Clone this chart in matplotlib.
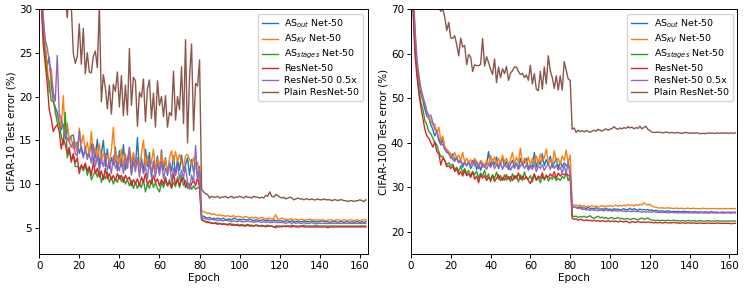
import numpy as np
import matplotlib
matplotlib.use("Agg")
import matplotlib.pyplot as plt

epochs = list(range(164))

labels = [r"AS$_{out}$ Net-50", r"AS$_{KV}$ Net-50", r"AS$_{stages}$ Net-50",
          "ResNet-50", "ResNet-50 0.5x", "Plain ResNet-50"]

# ---------------- CIFAR-10 ----------------
c10_as_out = [40, 32, 27.5, 25.5, 23.5, 24.5, 21.5, 19.5, 18.8, 18.2,
    17.0, 16.2, 16.8, 15.2, 16.5, 15.0, 15.5, 15.6, 14.2, 14.8,
    13.5, 14.3, 13.2, 13.8, 13.3, 13.5, 14.6, 12.6, 13.1, 15.1,
    12.2, 13.5, 15.0, 12.0, 14.0, 11.8, 13.0, 12.2, 14.2, 11.5,
    13.8, 12.0, 14.5, 11.6, 12.8, 13.9, 11.2, 13.5, 12.0, 15.3,
    11.5, 13.0, 11.3, 14.0, 12.0, 13.6, 10.8, 12.6, 11.6, 13.2,
    11.3, 13.9, 11.6, 13.0, 11.0, 12.5, 11.5, 13.2, 11.0, 12.8,
    11.6, 13.3, 11.5, 12.2, 13.0, 11.0, 12.8, 11.4, 12.4, 10.8,
    12.0, 6.4, 6.3, 6.2, 6.1, 6.2, 6.0, 6.1, 6.0, 6.1,
    6.0, 6.0, 6.1, 5.9, 6.0, 6.0, 5.9, 6.1, 6.0, 5.9,
    6.0, 5.9, 6.0, 5.9, 5.9, 6.0, 5.9, 5.8, 5.9, 5.9,
    5.8, 5.9, 5.9, 5.8, 5.9, 5.8, 5.8, 5.9, 5.8, 5.8,
    5.8, 5.8, 5.7, 5.8, 5.8, 5.7, 5.8, 5.7, 5.7, 5.8,
    5.7, 5.7, 5.8, 5.7, 5.7, 5.7, 5.8, 5.7, 5.7, 5.7,
    5.7, 5.8, 5.7, 5.7, 5.7, 5.6, 5.7, 5.7, 5.7, 5.6,
    5.7, 5.7, 5.6, 5.7, 5.7, 5.6, 5.7, 5.6, 5.7, 5.7,
    5.6, 5.7, 5.6, 5.7]

c10_as_kv = [42, 34, 29, 26, 23.5, 20.5, 23.2, 20.5, 18.0, 17.5,
    17.8, 16.5, 20.1, 15.5, 17.0, 14.8, 15.3, 14.0, 14.8, 13.5,
    16.4, 14.6, 15.6, 13.8, 14.8, 13.2, 16.0, 13.5, 14.2, 12.8,
    14.6, 12.6, 13.5, 12.8, 13.3, 12.5, 13.8, 16.5, 12.5, 13.2,
    12.3, 14.0, 12.0, 13.5, 11.8, 14.2, 12.5, 13.6, 11.9, 12.8,
    11.5, 13.5, 15.0, 12.0, 13.2, 11.8, 12.5, 14.0, 11.5, 12.8,
    12.0, 13.5, 12.2, 12.8, 11.3, 13.0, 13.8, 12.5, 13.7, 12.6,
    13.4, 12.5, 12.0, 13.2, 13.4, 12.8, 12.2, 13.0, 11.8, 12.5,
    11.2, 7.0, 6.8, 6.8, 6.6, 6.7, 6.5, 6.6, 6.5, 6.4,
    6.5, 6.4, 6.4, 6.3, 6.4, 6.3, 6.3, 6.4, 6.2, 6.3,
    6.3, 6.2, 6.2, 6.3, 6.2, 6.1, 6.2, 6.1, 6.2, 6.1,
    6.1, 6.2, 6.1, 6.0, 6.1, 6.1, 6.0, 6.1, 6.5, 6.0,
    6.0, 6.1, 6.0, 6.0, 5.9, 6.0, 6.0, 5.9, 6.0, 5.9,
    5.9, 6.0, 5.9, 5.9, 5.9, 6.0, 5.9, 5.9, 5.9, 5.9,
    5.9, 5.9, 5.9, 5.8, 5.9, 5.9, 5.9, 5.8, 5.9, 5.9,
    5.9, 5.8, 5.9, 5.9, 5.8, 5.9, 5.9, 5.8, 5.9, 5.9,
    5.8, 5.9, 5.9, 5.9]

c10_as_stages = [40, 32, 27, 24.5, 22.5, 21.5, 19.5, 19.5, 18.5, 17.0,
    16.8, 15.5, 14.5, 18.2, 13.0, 13.8, 12.8, 13.2, 12.0, 12.0,
    11.8, 12.0, 11.5, 12.2, 11.0, 11.8, 10.5, 11.0, 11.5, 10.8,
    11.6, 10.2, 11.0, 10.6, 11.4, 10.2, 10.8, 10.0, 10.6, 10.2,
    11.0, 10.3, 10.8, 10.0, 10.5, 9.8, 10.4, 9.5, 10.2, 9.5,
    10.0, 9.6, 10.5, 9.1, 10.0, 9.5, 10.6, 9.6, 10.2, 9.5,
    9.1, 10.2, 9.6, 10.4, 9.8, 10.5, 9.5, 10.2, 9.7, 10.8,
    9.6, 11.0, 9.8, 10.4, 9.5, 10.0, 9.4, 9.8, 9.4, 9.6,
    9.5, 5.9, 5.8, 5.7, 5.7, 5.6, 5.6, 5.5, 5.6, 5.5,
    5.5, 5.4, 5.5, 5.4, 5.4, 5.5, 5.4, 5.4, 5.3, 5.4,
    5.3, 5.4, 5.3, 5.3, 5.4, 5.3, 5.3, 5.2, 5.3, 5.3,
    5.2, 5.3, 5.2, 5.2, 5.3, 5.2, 5.2, 5.1, 5.0, 5.1,
    5.1, 5.2, 5.2, 5.2, 5.2, 5.2, 5.3, 5.2, 5.2, 5.2,
    5.2, 5.2, 5.3, 5.2, 5.2, 5.2, 5.2, 5.2, 5.3, 5.2,
    5.2, 5.2, 5.2, 5.2, 5.2, 5.2, 5.2, 5.2, 5.2, 5.2,
    5.2, 5.2, 5.2, 5.2, 5.2, 5.2, 5.2, 5.2, 5.2, 5.2,
    5.2, 5.2, 5.2, 5.2]

c10_resnet = [38, 31, 26, 23.8, 21.5, 18.5, 17.5, 16.0, 16.5, 16.8,
    16.0, 14.0, 15.2, 14.5, 13.5, 14.2, 12.5, 13.5, 12.4, 13.0,
    11.2, 12.2, 11.8, 12.4, 11.5, 12.0, 11.0, 12.5, 11.2, 11.8,
    10.8, 11.5, 10.5, 11.8, 10.6, 11.2, 10.5, 11.0, 10.4, 11.2,
    10.6, 11.0, 10.2, 11.0, 10.5, 10.8, 9.8, 10.5, 10.0, 10.6,
    9.8, 10.8, 10.2, 11.2, 9.9, 10.4, 10.0, 11.0, 10.2, 10.6,
    9.8, 10.5, 10.0, 10.8, 9.8, 10.2, 9.6, 11.2, 10.0, 10.5,
    9.8, 10.4, 10.8, 9.6, 10.2, 9.5, 10.0, 10.5, 9.8, 10.8,
    9.6, 6.0, 5.8, 5.7, 5.6, 5.6, 5.5, 5.5, 5.5, 5.4,
    5.5, 5.4, 5.4, 5.4, 5.3, 5.4, 5.3, 5.3, 5.3, 5.3,
    5.2, 5.3, 5.2, 5.2, 5.3, 5.2, 5.2, 5.2, 5.3, 5.2,
    5.2, 5.2, 5.2, 5.1, 5.2, 5.2, 5.2, 5.1, 5.2, 5.2,
    5.2, 5.1, 5.2, 5.1, 5.2, 5.1, 5.1, 5.2, 5.1, 5.1,
    5.1, 5.2, 5.1, 5.1, 5.1, 5.1, 5.1, 5.1, 5.1, 5.1,
    5.1, 5.1, 5.1, 5.1, 5.0, 5.1, 5.1, 5.1, 5.1, 5.1,
    5.1, 5.1, 5.1, 5.1, 5.1, 5.1, 5.1, 5.1, 5.1, 5.1,
    5.1, 5.1, 5.1, 5.1]

c10_resnet_half = [42, 34, 29, 26.5, 25.6, 24.0, 22.0, 20.5, 19.5, 24.7,
    18.0, 17.5, 16.5, 15.8, 15.2, 14.8, 14.2, 14.8, 13.5, 13.2,
    16.1, 13.8, 13.0, 14.2, 12.8, 13.5, 12.4, 14.5, 12.0, 13.2,
    11.5, 12.8, 12.0, 13.5, 11.6, 12.5, 11.2, 13.2, 11.8, 12.4,
    11.5, 12.8, 11.2, 13.0, 11.8, 14.2, 11.0, 12.6, 11.4, 13.0,
    10.8, 12.5, 11.2, 12.0, 10.6, 12.8, 11.3, 12.2, 10.8, 12.4,
    11.0, 12.6, 10.6, 11.8, 11.2, 12.4, 10.4, 11.8, 11.0, 12.2,
    10.5, 11.6, 10.8, 12.0, 10.2, 9.4, 11.0, 10.2, 14.4, 10.5,
    11.5, 6.2, 6.1, 6.0, 6.0, 5.9, 6.0, 5.9, 5.9, 5.8,
    5.9, 5.8, 5.8, 5.9, 5.8, 5.8, 5.7, 5.8, 5.7, 5.7,
    5.8, 5.7, 5.7, 5.7, 5.8, 5.7, 5.7, 5.6, 5.7, 5.7,
    5.7, 5.6, 5.7, 5.6, 5.7, 5.6, 5.6, 5.7, 5.6, 5.6,
    5.6, 5.6, 5.6, 5.5, 5.6, 5.6, 5.5, 5.6, 5.5, 5.6,
    5.5, 5.5, 5.6, 5.5, 5.5, 5.5, 5.6, 5.5, 5.5, 5.5,
    5.5, 5.5, 5.5, 5.5, 5.5, 5.5, 5.5, 5.5, 5.5, 5.5,
    5.5, 5.5, 5.5, 5.5, 5.5, 5.5, 5.5, 5.5, 5.5, 5.5,
    5.5, 5.5, 5.5, 5.5]

c10_plain = [60, 52, 46, 42, 40, 38, 37, 36, 35, 34,
    33, 33.5, 32, 31.5, 29.0, 33, 30.5, 25.0, 23.8, 24.6,
    28.3, 23.7, 27.8, 22.6, 25.0, 22.8, 22.7, 24.6, 25.2, 23.3,
    30.5, 19.4, 22.5, 21.0, 18.6, 21.3, 18.0, 21.4, 20.6, 22.8,
    18.8, 22.4, 17.8, 21.3, 17.9, 25.5, 19.0, 22.2, 21.8, 16.6,
    20.5, 19.9, 22.0, 17.1, 20.9, 21.9, 17.5, 20.4, 16.5, 21.8,
    19.0, 20.0, 17.7, 20.1, 16.5, 18.2, 17.8, 22.9, 17.3, 20.0,
    18.5, 23.4, 16.9, 26.5, 14.7, 22.3, 26.0, 16.1, 21.5, 21.2,
    24.2, 9.4, 9.1, 8.9, 8.8, 8.4, 8.6, 8.5, 8.5, 8.6,
    8.4, 8.5, 8.5, 8.6, 8.4, 8.5, 8.6, 8.4, 8.5, 8.5,
    8.6, 8.5, 8.4, 8.6, 8.5, 8.5, 8.4, 8.6, 8.5, 8.5,
    8.4, 8.5, 8.4, 8.7, 8.6, 9.1, 8.6, 8.5, 8.8, 8.7,
    8.5, 8.4, 8.5, 8.3, 8.4, 8.5, 8.4, 8.2, 8.3, 8.4,
    8.3, 8.3, 8.2, 8.3, 8.3, 8.2, 8.3, 8.2, 8.2, 8.3,
    8.2, 8.2, 8.3, 8.2, 8.2, 8.2, 8.1, 8.2, 8.2, 8.1,
    8.2, 8.2, 8.1, 8.1, 8.0, 8.1, 8.1, 8.0, 8.1, 8.1,
    8.2, 8.1, 8.0, 8.2]

# ---------------- CIFAR-100 ----------------
c100_as_out = [90, 75, 64, 57, 54, 51, 49.5, 47.5, 46.0, 45.5,
    44.0, 43.0, 41.5, 42.5, 40.5, 39.5, 40.8, 38.5, 38.0, 37.8,
    36.5, 37.5, 36.0, 36.8, 35.5, 36.2, 34.5, 35.6, 34.8, 35.8,
    34.2, 35.0, 36.2, 34.0, 35.2, 33.8, 35.5, 34.5, 35.2, 38.0,
    34.5, 36.2, 35.0, 36.8, 34.2, 35.5, 36.5, 34.8, 35.8, 34.0,
    35.2, 36.0, 34.5, 35.5, 34.0, 36.5, 34.8, 35.6, 36.5, 34.2,
    35.0, 34.5, 37.8, 34.5, 36.0, 35.0, 37.5, 34.8, 36.2, 35.0,
    37.0, 34.5, 35.5, 36.5, 34.2, 35.8, 34.5, 35.5, 34.8, 35.2,
    33.5, 25.8, 25.6, 25.5, 25.4, 25.6, 25.3, 25.4, 25.2, 25.5,
    25.2, 25.3, 25.1, 25.4, 25.2, 25.0, 25.2, 25.0, 25.3, 25.0,
    25.1, 24.9, 25.2, 25.0, 25.1, 24.9, 25.0, 25.2, 24.9, 25.0,
    25.3, 24.9, 25.2, 25.0, 24.8, 25.1, 24.9, 25.0, 24.9, 25.0,
    24.8, 24.9, 24.7, 24.8, 24.7, 24.6, 24.7, 24.6, 24.6, 24.7,
    24.6, 24.5, 24.6, 24.5, 24.6, 24.5, 24.5, 24.6, 24.5, 24.5,
    24.5, 24.4, 24.5, 24.5, 24.4, 24.5, 24.4, 24.4, 24.5, 24.4,
    24.4, 24.5, 24.4, 24.4, 24.4, 24.3, 24.4, 24.4, 24.3, 24.4,
    24.4, 24.3, 24.4, 24.4]

c100_as_kv = [90, 76, 65, 58, 55, 52, 50, 49.0, 47.0, 46.0,
    45.0, 44.0, 44.2, 42.0, 43.5, 40.5, 41.5, 39.0, 38.5, 38.0,
    37.5, 36.5, 37.8, 36.5, 37.2, 36.0, 37.8, 35.6, 36.5, 35.5,
    36.2, 35.0, 36.5, 35.8, 34.8, 36.0, 35.5, 34.8, 36.0, 35.0,
    37.2, 35.5, 36.8, 35.2, 36.5, 35.0, 37.2, 35.6, 36.5, 35.0,
    36.2, 37.8, 35.2, 36.8, 35.5, 38.8, 35.0, 36.5, 35.2, 36.8,
    35.0, 36.5, 35.5, 37.0, 35.2, 37.5, 35.8, 36.6, 38.6, 35.5,
    36.2, 35.0, 38.2, 35.8, 36.5, 35.2, 37.0, 36.0, 38.3, 35.5,
    37.2, 26.2, 26.0, 26.0, 25.8, 26.0, 25.7, 25.9, 25.6, 25.8,
    25.7, 25.9, 25.6, 25.8, 25.5, 25.7, 25.9, 25.6, 25.8, 25.7,
    25.9, 25.7, 25.8, 26.0, 25.7, 25.9, 25.8, 26.0, 25.8, 26.1,
    25.9, 26.0, 25.8, 26.1, 25.9, 26.2, 26.0, 26.5, 26.2, 26.0,
    26.2, 25.8, 25.6, 25.5, 25.4, 25.3, 25.4, 25.3, 25.3, 25.4,
    25.3, 25.3, 25.2, 25.3, 25.3, 25.2, 25.3, 25.2, 25.2, 25.3,
    25.2, 25.2, 25.3, 25.2, 25.2, 25.2, 25.2, 25.3, 25.2, 25.2,
    25.2, 25.2, 25.2, 25.2, 25.2, 25.2, 25.2, 25.2, 25.2, 25.2,
    25.2, 25.2, 25.2, 25.2]

c100_as_stages = [88, 72, 62, 56, 52, 49.0, 47.5, 45.0, 44.0, 42.5,
    42.0, 41.0, 40.0, 39.5, 38.0, 36.8, 37.0, 36.0, 35.0, 35.5,
    34.8, 35.2, 34.0, 34.5, 33.5, 34.8, 33.2, 34.2, 33.0, 33.8,
    32.5, 33.5, 32.8, 33.6, 32.0, 33.2, 32.5, 33.8, 32.0, 33.0,
    31.2, 32.8, 32.0, 33.4, 31.8, 32.6, 31.5, 32.8, 31.6, 32.4,
    31.3, 33.0, 31.8, 32.6, 31.2, 32.8, 31.5, 33.4, 32.0, 31.8,
    32.6, 31.2, 32.8, 31.5, 32.2, 31.0, 32.5, 31.6, 32.8, 31.4,
    32.2, 31.8, 32.5, 31.5, 32.0, 31.5, 32.4, 32.0, 33.2, 31.5,
    32.5, 23.6, 23.4, 23.5, 23.2, 23.4, 23.3, 23.5, 23.2, 23.4,
    23.6, 23.2, 23.0, 23.3, 23.5, 23.1, 23.3, 23.0, 23.2, 22.9,
    23.1, 23.2, 22.9, 23.0, 23.2, 22.9, 23.0, 22.8, 22.9, 23.0,
    22.7, 22.9, 23.0, 22.8, 22.7, 22.9, 23.1, 22.8, 22.9, 23.1,
    22.8, 22.6, 22.6, 22.5, 22.6, 22.5, 22.6, 22.5, 22.5, 22.6,
    22.5, 22.5, 22.6, 22.5, 22.5, 22.4, 22.5, 22.5, 22.4, 22.5,
    22.5, 22.4, 22.5, 22.4, 22.4, 22.5, 22.4, 22.4, 22.4, 22.5,
    22.4, 22.4, 22.4, 22.4, 22.5, 22.4, 22.4, 22.4, 22.4, 22.4,
    22.4, 22.4, 22.4, 22.4]

c100_resnet = [86, 70, 60, 55, 51, 48.0, 45.5, 43.0, 41.5, 41.0,
    40.0, 39.0, 40.2, 38.0, 37.5, 35.0, 36.5, 36.0, 34.6, 34.8,
    34.2, 34.8, 33.5, 34.2, 32.8, 33.5, 32.5, 33.8, 32.6, 33.0,
    32.2, 33.5, 31.8, 32.5, 31.0, 32.8, 32.0, 32.6, 31.5, 32.2,
    31.8, 32.6, 31.3, 32.0, 32.8, 31.5, 32.2, 31.6, 32.8, 31.8,
    32.4, 31.5, 32.6, 32.0, 33.2, 31.8, 32.5, 31.8, 32.4, 31.5,
    30.8, 32.0, 33.0, 31.6, 32.5, 32.0, 33.2, 31.8, 32.6, 32.2,
    33.0, 32.4, 33.5, 32.0, 33.2, 32.5, 33.0, 32.8, 33.2, 32.6,
    32.5, 23.0, 22.8, 22.9, 22.6, 22.8, 22.7, 22.5, 22.7, 22.5,
    22.6, 22.4, 22.6, 22.4, 22.5, 22.3, 22.5, 22.4, 22.3, 22.5,
    22.3, 22.4, 22.3, 22.4, 22.2, 22.4, 22.3, 22.2, 22.4, 22.2,
    22.0, 22.3, 22.2, 22.1, 22.3, 22.2, 22.1, 22.2, 22.1, 22.2,
    22.1, 22.1, 22.0, 22.1, 22.0, 22.1, 22.0, 22.0, 22.1, 22.0,
    22.0, 22.0, 22.1, 22.0, 22.0, 21.9, 22.0, 22.0, 21.9, 22.0,
    22.0, 21.9, 22.0, 21.9, 21.9, 22.0, 21.9, 21.9, 21.9, 22.0,
    21.9, 21.9, 21.9, 21.9, 22.0, 21.9, 21.9, 21.9, 21.9, 21.9,
    21.9, 21.8, 21.9, 21.9]

c100_resnet_half = [92, 78, 66, 59, 55, 52, 50.5, 48.5, 47.0, 46.0,
    46.2, 44.5, 43.0, 42.5, 41.0, 40.0, 39.5, 38.5, 37.8, 37.5,
    36.8, 36.2, 35.8, 36.5, 35.5, 35.8, 35.2, 35.6, 34.8, 35.5,
    35.0, 36.0, 34.8, 35.5, 34.2, 35.8, 34.5, 35.0, 34.0, 35.2,
    34.5, 35.5, 34.2, 35.0, 34.6, 35.5, 34.0, 35.2, 34.5, 35.0,
    33.8, 34.8, 34.2, 35.4, 34.0, 34.8, 35.5, 34.2, 35.0, 33.8,
    34.6, 34.0, 35.2, 33.5, 34.8, 34.2, 35.0, 33.8, 34.6, 35.2,
    34.0, 35.5, 34.2, 35.0, 33.8, 34.5, 33.2, 34.8, 33.0, 35.8,
    32.5, 25.7, 25.5, 25.4, 25.2, 25.3, 25.0, 25.1, 24.9, 25.0,
    24.8, 25.0, 24.8, 24.9, 24.7, 24.9, 24.8, 24.7, 24.9, 24.7,
    24.8, 24.6, 24.8, 24.7, 24.6, 24.8, 24.6, 24.7, 24.5, 24.7,
    24.6, 24.5, 24.7, 24.5, 24.6, 24.5, 24.4, 24.5, 24.4, 24.5,
    24.4, 24.4, 24.5, 24.4, 24.3, 24.4, 24.3, 24.4, 24.3, 24.3,
    24.3, 24.4, 24.3, 24.3, 24.2, 24.3, 24.3, 24.2, 24.3, 24.3,
    24.2, 24.3, 24.2, 24.3, 24.2, 24.2, 24.3, 24.2, 24.2, 24.2,
    24.2, 24.3, 24.2, 24.2, 24.2, 24.3, 24.2, 24.2, 24.2, 24.3,
    24.2, 24.2, 24.3, 24.2]

c100_plain = [95, 88, 84, 80, 78, 76, 75, 74, 73, 72.5,
    72, 71.5, 71, 70.5, 70.2, 69.5, 70.0, 68.2, 65.2, 67.0,
    63.5, 63.4, 64.0, 62.0, 59.5, 63.5, 61.5, 61.8, 57.5, 59.8,
    59.2, 56.0, 57.5, 57.3, 57.3, 57.6, 63.4, 57.2, 59.3, 58.0,
    56.5, 55.3, 58.8, 53.5, 57.0, 54.6, 56.6, 55.5, 57.1, 54.0,
    55.6, 56.2, 57.0, 57.0, 56.0, 55.3, 55.6, 54.6, 55.2, 54.0,
    57.4, 53.2, 55.5, 52.0, 51.7, 56.0, 52.0, 57.0, 53.2, 59.5,
    56.2, 54.6, 52.2, 55.0, 51.8, 55.0, 51.8, 58.2, 56.2, 54.3,
    54.0, 43.0, 43.3, 42.3, 42.8, 42.5, 42.7, 42.4, 42.7, 42.6,
    42.3, 42.6, 42.8, 42.6, 43.0, 42.8, 42.6, 42.9, 43.1, 42.8,
    43.0, 43.2, 43.6, 43.2, 43.0, 43.3, 43.1, 43.4, 43.2, 43.6,
    43.3, 43.5, 43.1, 43.4, 43.2, 43.7, 43.1, 43.4, 43.7, 43.0,
    42.7, 42.4, 42.3, 42.3, 42.4, 42.3, 42.3, 42.2, 42.4, 42.3,
    42.2, 42.3, 42.2, 42.2, 42.3, 42.2, 42.1, 42.2, 42.3, 42.2,
    42.1, 42.2, 42.1, 42.2, 42.2, 42.0, 42.1, 42.1, 42.0, 42.2,
    42.1, 42.2, 42.1, 42.1, 42.2, 42.1, 42.2, 42.1, 42.2, 42.1,
    42.1, 42.2, 42.1, 42.2]

c10_series = [c10_as_out, c10_as_kv, c10_as_stages, c10_resnet, c10_resnet_half, c10_plain]
c100_series = [c100_as_out, c100_as_kv, c100_as_stages, c100_resnet, c100_resnet_half, c100_plain]
colors = ["#1f77b4", "#ff7f0e", "#2ca02c", "#d62728", "#9467bd", "#8c564b"]

plt.rcParams["font.family"] = "DejaVu Sans"
plt.rcParams["font.size"] = 7.5

fig = plt.figure(figsize=(7.54, 2.92), dpi=100)
ax1 = fig.add_axes([0.052, 0.130, 0.436, 0.839])
ax2 = fig.add_axes([0.545, 0.130, 0.433, 0.839])

for ax, series, ylab, ylim, yt in [
        (ax1, c10_series, "CIFAR-10 Test error (%)", (2, 30), [5, 10, 15, 20, 25, 30]),
        (ax2, c100_series, "CIFAR-100 Test error (%)", (15, 70), [20, 30, 40, 50, 60, 70])]:
    for s, c, lab in zip(series, colors, labels):
        ax.plot(epochs, s, color=c, lw=1.0, label=lab)
    ax.set_xlim(0, 164)
    ax.set_ylim(*ylim)
    ax.set_yticks(yt)
    ax.set_xticks([0, 20, 40, 60, 80, 100, 120, 140, 160])
    ax.set_xlabel("Epoch", labelpad=1.5)
    ax.set_ylabel(ylab, labelpad=2)
    ax.tick_params(length=3, width=0.7, pad=2)
    for sp in ax.spines.values():
        sp.set_linewidth(0.7)
    ax.legend(loc="upper right", fontsize=6.8, handlelength=1.7, labelspacing=0.3,
              borderpad=0.4, handletextpad=0.7, frameon=True)

fig.savefig("out.png", dpi=100)
